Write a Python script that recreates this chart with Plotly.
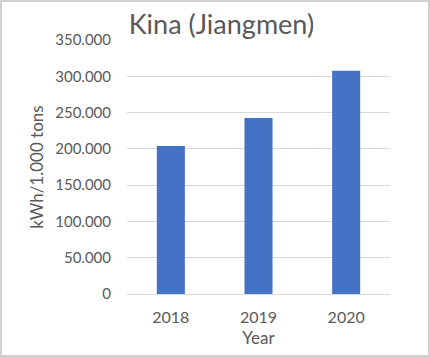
import plotly.graph_objects as go

years = ["2018", "2019", "2020"]
values = [204000, 242500, 307500]
y_ticks = [0, 50000, 100000, 150000, 200000, 250000, 300000, 350000]

grey = "#595959"
font_family = "Lato, 'Open Sans', sans-serif"

L, R, T, B = 127, 40, 40, 63
W, H = 430, 357
pw, ph = W - L - R, H - T - B

fig = go.Figure(go.Bar(x=years, y=values, marker_color="#4472C4", marker_line_width=0))

fig.update_layout(
    width=W, height=H,
    margin=dict(l=L, r=R, t=T, b=B),
    paper_bgcolor="white", plot_bgcolor="white",
    separators=",.",
    bargap=0.68,
    showlegend=False,
    font=dict(family=font_family, color=grey, size=15),
    title=dict(text="Kina (Jiangmen)", x=0.515, xanchor="center", y=0.93, yanchor="middle",
               font=dict(size=27, color=grey, family=font_family)),
    xaxis=dict(title=dict(text="Year", standoff=6, font=dict(size=17)),
               showline=True, linecolor="#d9d9d9", linewidth=1,
               ticks="", tickfont=dict(size=16), ticklabelstandoff=9),
    yaxis=dict(title=dict(text="kWh/1.000 tons", standoff=7, font=dict(size=17)),
               range=[0, 350000], tickvals=y_ticks, tickformat=",d",
               showgrid=True, gridcolor="#d9d9d9", gridwidth=1,
               zeroline=False, ticks="", tickfont=dict(size=15), ticklabelstandoff=15),
)
fig.add_shape(type="rect", xref="paper", yref="paper",
              x0=-(L - 1) / pw, x1=(W - L - 1) / pw, y0=-(B - 1) / ph, y1=(H - B - 1) / ph,
              line=dict(color="#d0d0d0", width=2), layer="below")

fig.write_html("out.html")
